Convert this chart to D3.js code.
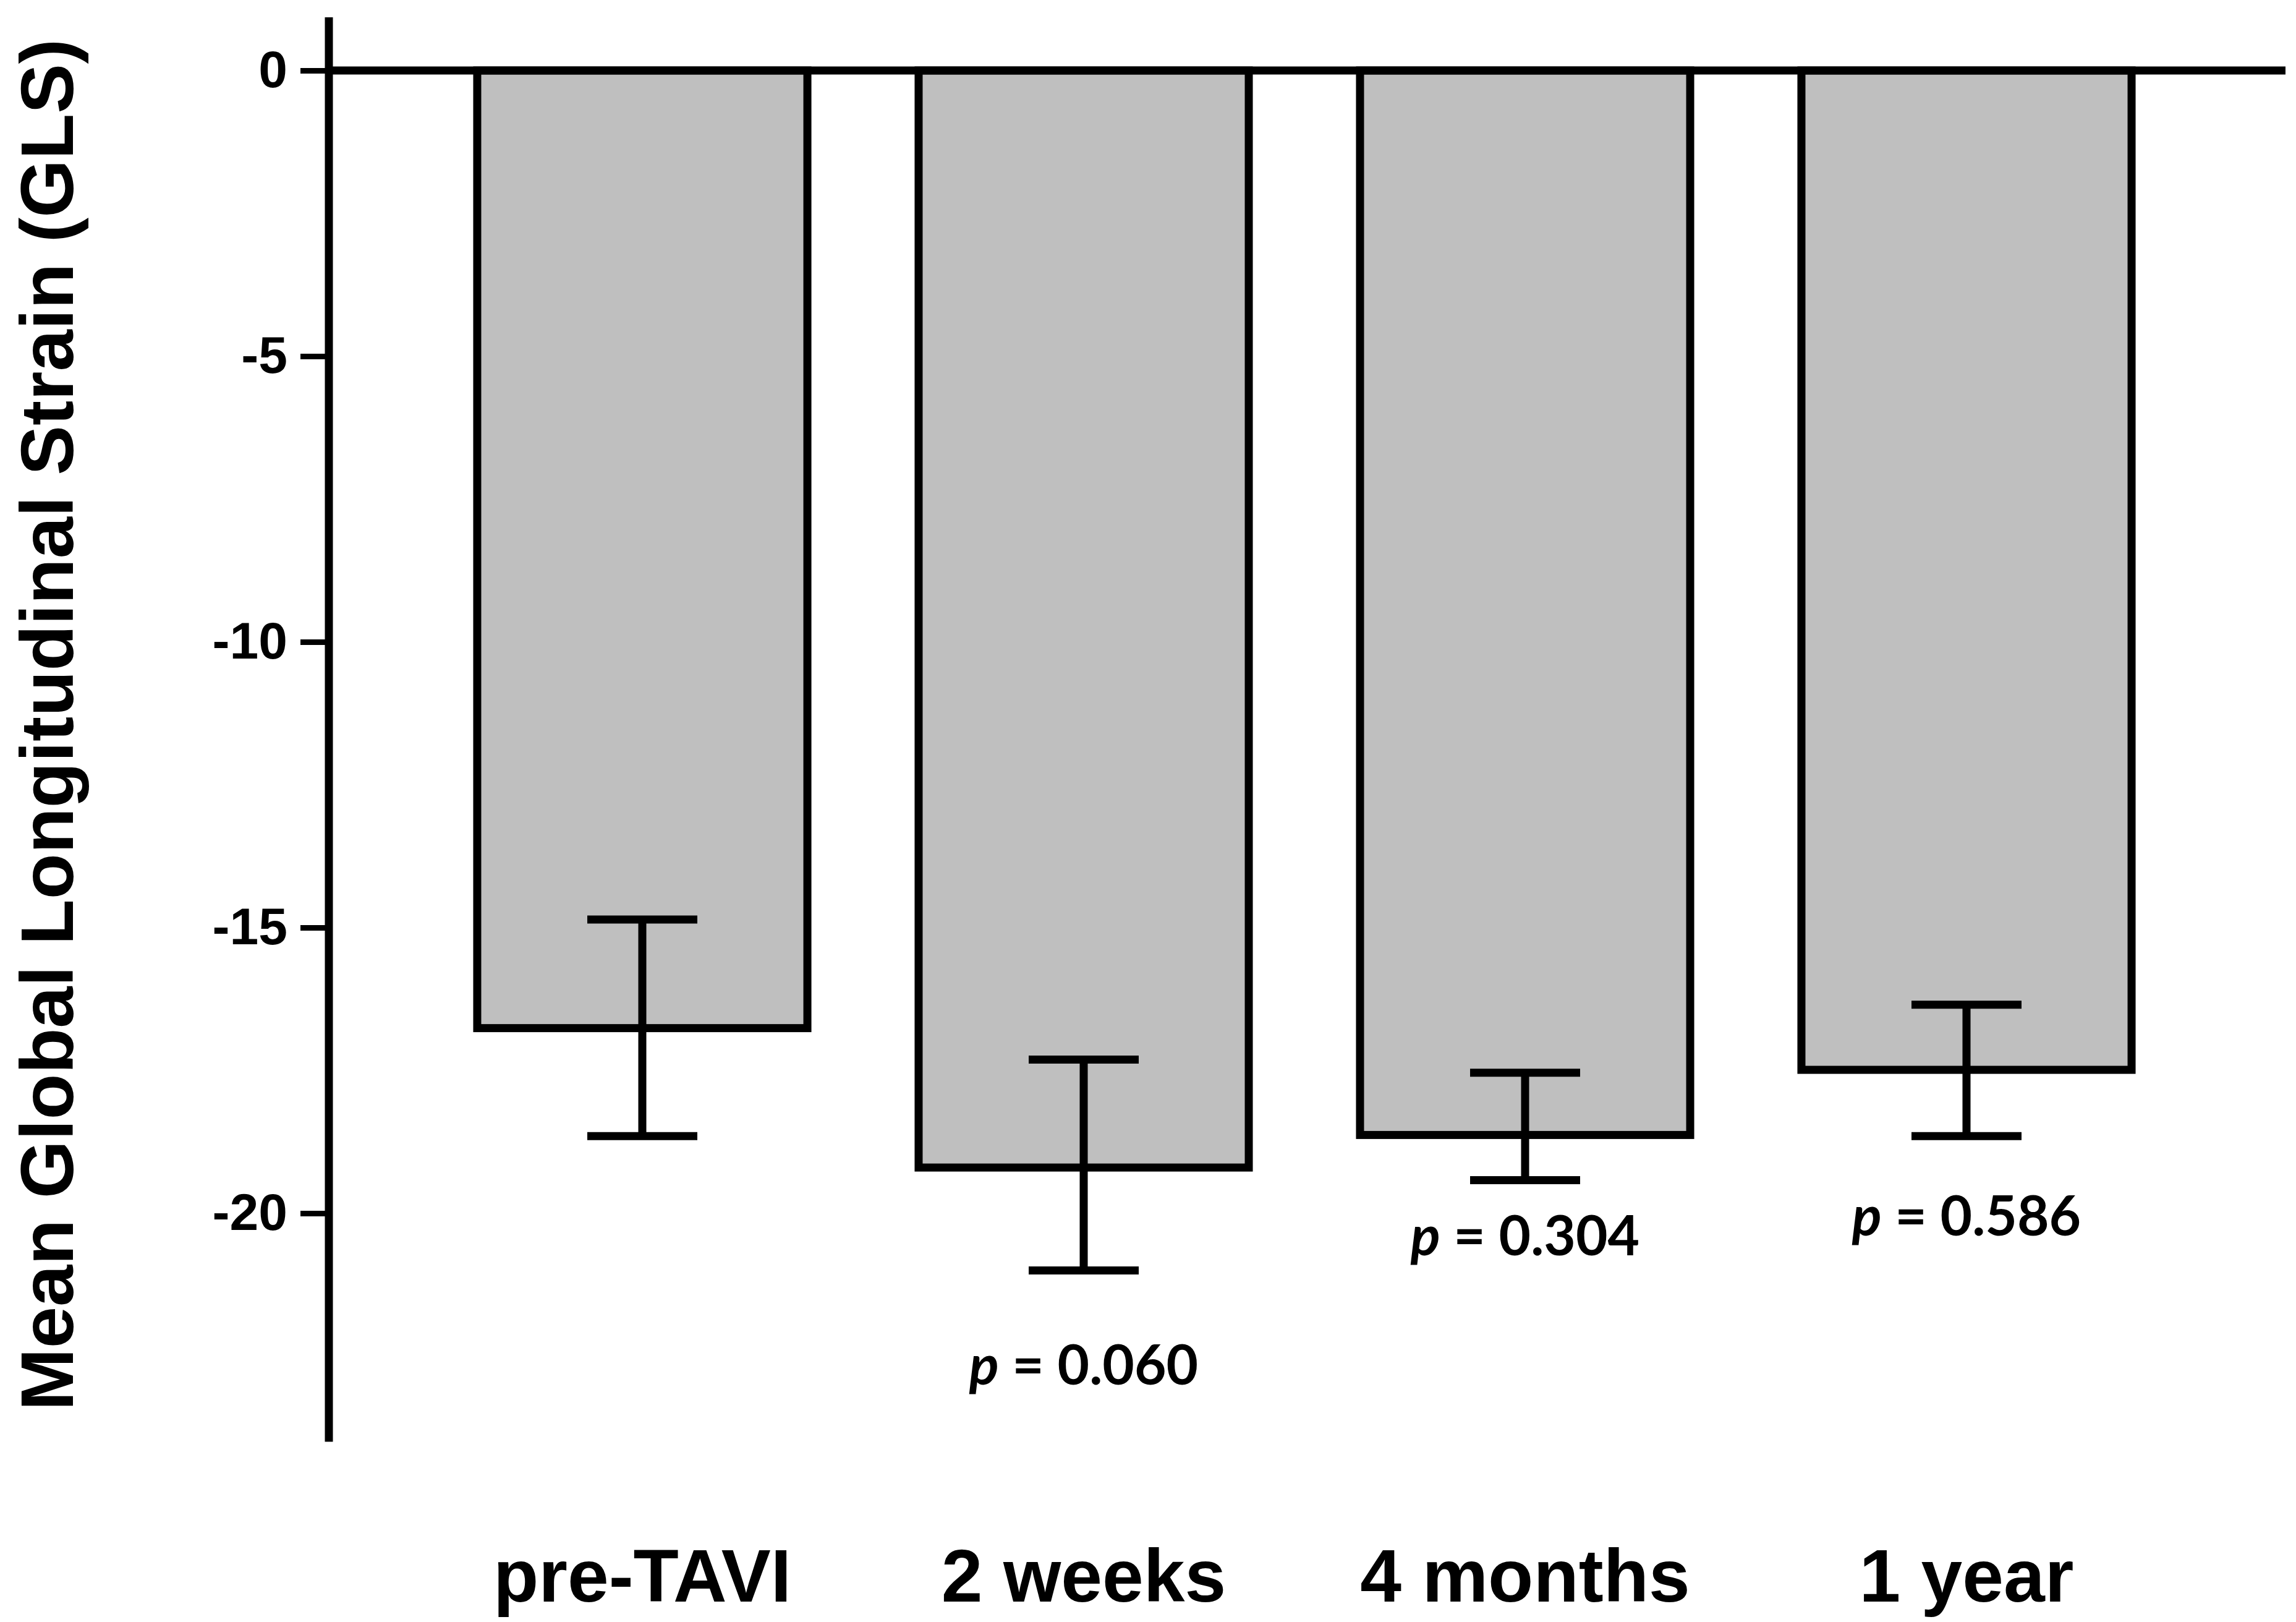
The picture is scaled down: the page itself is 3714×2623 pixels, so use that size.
<!DOCTYPE html>
<html>
<head>
<meta charset="utf-8">
<script src="https://cdn.jsdelivr.net/npm/d3@7"></script>
<style>
  body { margin: 0; background: #fff; }
  svg { display: block; }
</style>
</head>
<body>
<div id="chart"></div>
<script>
// values
var categories = ["pre-TAVI", "2 weeks", "4 months", "1 year"];
var meanGLS = [-16.76, -19.2, -18.63, -17.49];
var errHigh = [-14.86, -17.31, -17.54, -16.35];
var errLow = [-18.65, -21.0, -19.42, -18.65];
var yTicks = [0, -5, -10, -15, -20];
var pLabels = [null, "0.060", "0.304", "0.586"];
var pLabelAt = [null, -23.0, -20.74, -20.39];

var w = 3714,
    h = 2623,
    axisX = 532;

var svg = d3.select("#chart")
    .append("svg")
    .attr("width", w)
    .attr("height", h);

var x = d3.scaleBand()
    .domain(categories)
    .range([682, 3538])
    .paddingInner(0.252)
    .paddingOuter(0.126);

var y = d3.scaleLinear()
    .domain([0, -20])
    .range([114, 1962]);

var data = categories.map(function(c, i) {
    return { cat: c, mean: meanGLS[i], hi: errHigh[i], lo: errLow[i], p: pLabels[i], pAt: pLabelAt[i] };
});

// bars
svg.selectAll(".bar")
    .data(data)
    .enter().append("rect")
    .attr("class", "bar")
    .attr("x", function(d) { return x(d.cat); })
    .attr("y", y(0))
    .attr("width", x.bandwidth())
    .attr("height", function(d) { return y(d.mean) - y(0); })
    .attr("fill", "#bfbfbf")
    .attr("stroke", "#000")
    .attr("stroke-width", 13);

// error bars
var capW = 178;
var err = svg.selectAll(".err")
    .data(data)
    .enter().append("g")
    .attr("class", "err")
    .attr("stroke", "#000")
    .attr("stroke-width", 13);

err.append("line")
    .attr("x1", function(d) { return x(d.cat) + x.bandwidth() / 2; })
    .attr("x2", function(d) { return x(d.cat) + x.bandwidth() / 2; })
    .attr("y1", function(d) { return y(d.hi); })
    .attr("y2", function(d) { return y(d.lo); });

err.selectAll(".cap")
    .data(function(d) { return [d.hi, d.lo].map(function(v) { return { cx: x(d.cat) + x.bandwidth() / 2, v: v }; }); })
    .enter().append("line")
    .attr("class", "cap")
    .attr("x1", function(d) { return d.cx - capW / 2; })
    .attr("x2", function(d) { return d.cx + capW / 2; })
    .attr("y1", function(d) { return y(d.v); })
    .attr("y2", function(d) { return y(d.v); });

// zero line
svg.append("line")
    .attr("x1", axisX)
    .attr("x2", 3697)
    .attr("y1", y(0))
    .attr("y2", y(0))
    .attr("stroke", "#000")
    .attr("stroke-width", 13);

// y axis
var yAxis = svg.append("g")
    .attr("transform", "translate(" + axisX + ",0)")
    .call(d3.axisLeft(y).tickValues(yTicks).tickSize(46).tickPadding(21)
        .tickFormat(function(d) { return String(d); }));
yAxis.select(".domain").remove();
yAxis.selectAll(".tick line").attr("stroke", "#000").attr("stroke-width", 9);
yAxis.selectAll(".tick text")
    .attr("fill", "#000")
    .style("font-family", "'Liberation Sans', Arial, sans-serif")
    .style("font-weight", "bold")
    .style("font-size", "84px");

svg.append("line")
    .attr("x1", axisX)
    .attr("x2", axisX)
    .attr("y1", y(0.93))
    .attr("y2", y(-24))
    .attr("stroke", "#000")
    .attr("stroke-width", 13);

// x labels
var xAxis = svg.append("g")
    .attr("transform", "translate(0,2590)")
    .call(d3.axisBottom(x).tickSize(0).tickPadding(0));
xAxis.select(".domain").remove();
xAxis.selectAll(".tick text")
    .attr("y", 0)
    .attr("dy", 0)
    .attr("fill", "#000")
    .style("font-family", "'Liberation Sans', Arial, sans-serif")
    .style("font-weight", "bold")
    .style("font-size", "120px");

// y title
svg.append("text")
    .attr("transform", "translate(118,1172) rotate(-90)")
    .attr("text-anchor", "middle")
    .style("font-family", "'Liberation Sans', Arial, sans-serif")
    .style("font-weight", "bold")
    .style("font-size", "121px")
    .text("Mean Global Longitudinal Strain (GLS)");

// p values
var pt = svg.selectAll(".pval")
    .data(data.filter(function(d) { return d.p; }))
    .enter().append("text")
    .attr("class", "pval")
    .attr("x", function(d) { return x(d.cat) + x.bandwidth() / 2; })
    .attr("y", function(d) { return y(d.pAt); })
    .attr("text-anchor", "middle")
    .style("font-family", "Lato, sans-serif")
    .style("font-weight", "bold")
    .style("font-size", "89px");
pt.append("tspan").style("font-style", "italic").text("p");
pt.append("tspan").text(function(d) { return " = " + d.p; });
</script>
</body>
</html>
